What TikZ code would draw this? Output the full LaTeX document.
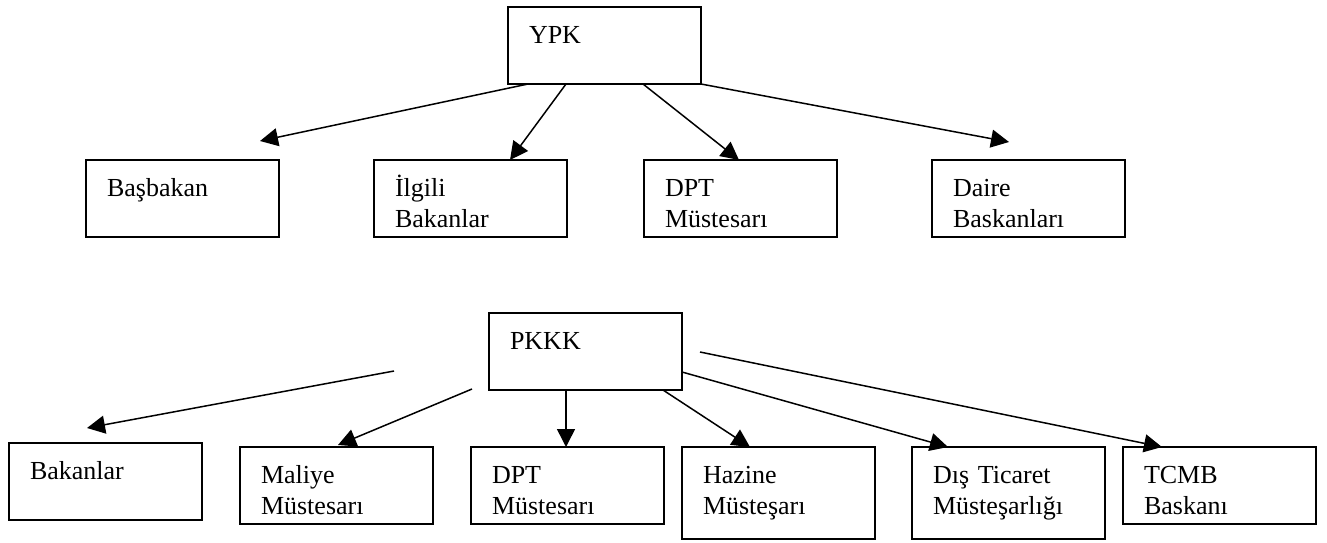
\documentclass[tikz,border=0pt]{standalone}
\usepackage{fontspec}
\setmainfont{Liberation Serif}
\usepackage{tikz}
\usetikzlibrary{positioning, arrows.meta}
\newcommand{\boxlines}[3][5pt]{\rule{0pt}{18pt}#2\\#3\rule[-#1]{0pt}{#1}}

\begin{document}
\begin{tikzpicture}[
  unit/.style={rectangle, draw, line width=0.7pt, anchor=north west,
    align=left, text width=75.5pt, inner xsep=10.5pt, inner ysep=0pt,
    outer sep=0pt, font=\fontsize{13}{15.5}\selectfont},
  flow/.style={-{Triangle[length=9pt, width=9pt]}, line width=0.75pt}
]
  \useasboundingbox (0,0) rectangle (663.5pt,-271pt);

  \node[unit] (ypk) at (254pt,-3.5pt) {\boxlines{YPK}{}};
  \node[unit] (basbakan) at (43pt,-80pt) {\boxlines{Başbakan}{}};
  \node[unit, right=47.5pt of basbakan.north east, anchor=north west] (ilgili) {\boxlines{İlgili}{Bakanlar}};
  \node[unit, right=38.5pt of ilgili.north east, anchor=north west] (dpt) {\boxlines{DPT}{Müstesarı}};
  \node[unit, right=47.5pt of dpt.north east, anchor=north west] (daire) {\boxlines{Daire}{Baskanları}};

  \node[unit] (pkkk) at (244.5pt,-156.5pt) {\boxlines{PKKK}{}};
  \node[unit] (bakanlar) at (4.5pt,-221.5pt) {\boxlines{Bakanlar}{}};
  \node[unit, right=19pt of bakanlar.north east, anchor=north west, yshift=-2pt] (maliye) {\boxlines{Maliye}{Müstesarı}};
  \node[unit, right=19pt of maliye.north east, anchor=north west] (dptpkkk) {\boxlines{DPT}{Müstesarı}};
  \node[unit, right=9pt of dptpkkk.north east, anchor=north west] (hazine) {\boxlines[12.5pt]{Hazine}{Müsteşarı}};
  \node[unit, right=18.5pt of hazine.north east, anchor=north west] (dis) {\boxlines[12.5pt]{Dış Ticaret}{Müsteşarlığı}};
  \node[unit, right=9pt of dis.north east, anchor=north west] (tcmb) {\boxlines{TCMB}{Baskanı}};

  \coordinate (bastip) at ([shift={(87pt,9.5pt)}]basbakan.north west);
  \coordinate (dairetip) at ([shift={(38.5pt,9pt)}]daire.north west);
  \coordinate (baktail) at ([shift={(-47.5pt,9.5pt)}]pkkk.south west);
  \coordinate (baktip) at ([shift={(39pt,7.5pt)}]bakanlar.north west);
  \coordinate (maltail) at ([shift={(-8.5pt,0.5pt)}]pkkk.south west);
  \coordinate (tcmbtail) at ([shift={(9pt,-19.5pt)}]pkkk.north east);

  \draw[flow] ([xshift=10pt]ypk.south west) -- (bastip);
  \draw[flow] ([xshift=29pt]ypk.south west) -- ([xshift=68pt]ilgili.north west);
  \draw[flow] ([xshift=67.5pt]ypk.south west) -- ([xshift=47.5pt]dpt.north west);
  \draw[flow] (ypk.south east) -- (dairetip);

  \draw[flow] (baktail) -- (baktip);
  \draw[flow] (maltail) -- ([shift={(49pt,1pt)}]maliye.north west);
  \draw[flow] ([xshift=38.5pt]pkkk.south west) -- ([xshift=47.5pt]dptpkkk.north west);
  \draw[flow] ([xshift=87pt]pkkk.south west) -- ([xshift=34pt]hazine.north west);
  \draw[flow] ([yshift=9pt]pkkk.south east) -- ([xshift=18pt]dis.north west);
  \draw[flow] (tcmbtail) -- ([xshift=19.5pt]tcmb.north west);
\end{tikzpicture}
\end{document}
